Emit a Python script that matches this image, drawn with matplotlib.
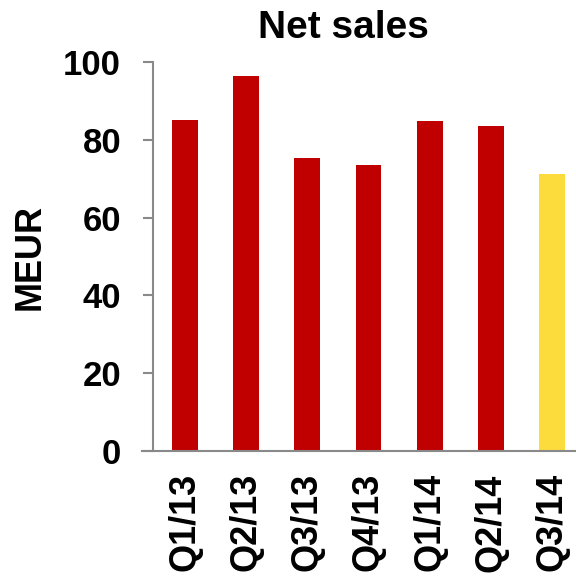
import matplotlib.pyplot as plt

# quarterly net sales, MEUR
quarters = ["Q1/13", "Q2/13", "Q3/13", "Q4/13", "Q1/14", "Q2/14", "Q3/14"]
net_sales = [85.2, 96.3, 75.2, 73.6, 84.9, 83.5, 71.1]
bar_colors = ["#C00000"] * 6 + ["#FCDC3C"]

plt.rcParams['font.family'] = ['Liberation Sans', 'DejaVu Sans']
plt.rcParams['font.weight'] = 'bold'

fig = plt.figure(figsize=(5.76, 5.77), dpi=100)
ax = fig.add_axes([0.2656, 0.2184, 0.7344, 0.6741])

x = range(len(quarters))
ax.bar(x, net_sales, width=0.42, color=bar_colors, zorder=2)

ax.set_xlim(-0.52, 6.39)
ax.set_ylim(0, 100)
ax.set_yticks([0, 20, 40, 60, 80, 100])
ax.set_xticks(list(x))
ax.set_xticklabels(quarters, rotation=90, fontsize=26, fontweight='bold')
ax.tick_params(axis='x', length=0, pad=16)
ax.tick_params(axis='y', labelsize=25, length=7, width=1.5, color='#898989', pad=16)
for lbl in ax.get_yticklabels():
    lbl.set_fontweight('bold')

for side in ['top', 'right', 'bottom']:
    ax.spines[side].set_visible(False)
ax.spines['left'].set_color('#898989')
ax.spines['left'].set_linewidth(1.5)

# baseline runs a bit past the y axis to the left
ax.axhline(0, xmin=-0.026, xmax=1, color='#898989', lw=1.5, clip_on=False, zorder=3)

ax.set_ylabel("MEUR", fontsize=26, fontweight='bold')
ax.yaxis.set_label_coords(-0.25, 0.5)

fig.text(0.596, 0.951, "Net sales", fontsize=28, fontweight='bold', ha='center', va='center')

fig.savefig("out.png", dpi=100)
